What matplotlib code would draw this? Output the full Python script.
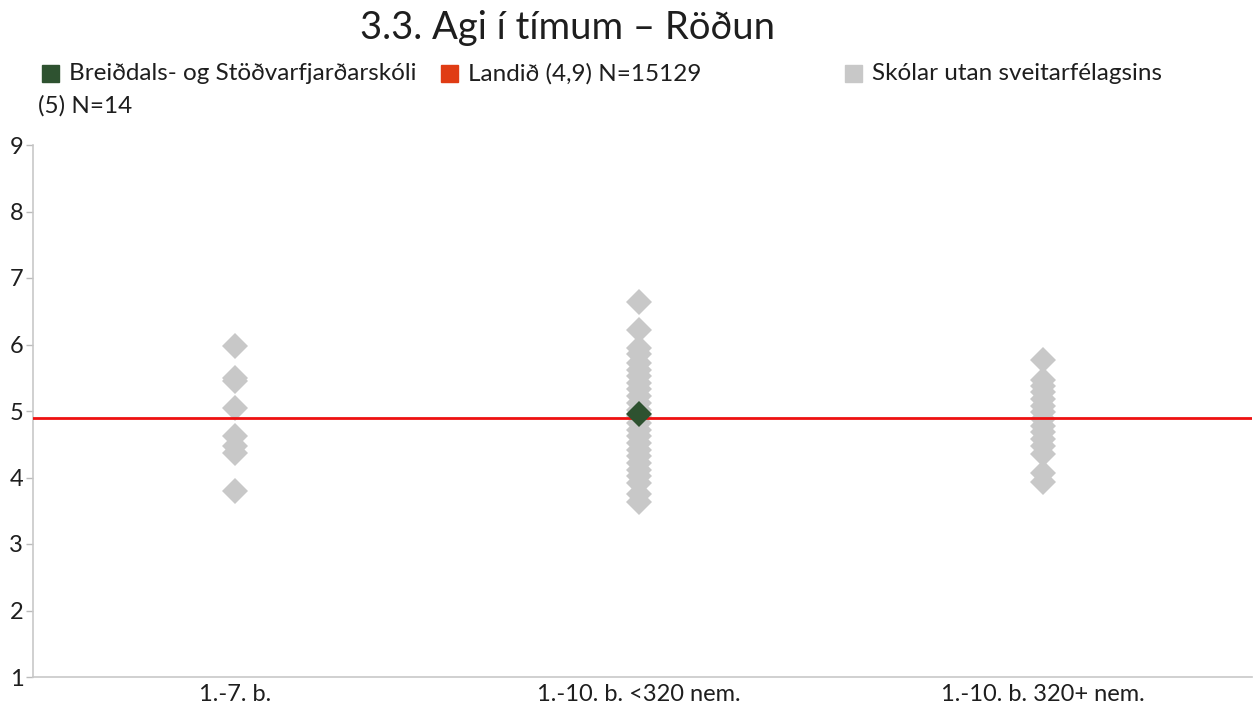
import numpy as np
import matplotlib.pyplot as plt
from matplotlib.patches import Rectangle

plt.rcParams['font.family'] = ['Lato', 'DejaVu Sans']

title = "3.3. Agi í tímum – Röðun"
categories = ["1.-7. b.", "1.-10. b. <320 nem.", "1.-10. b. 320+ nem."]

# skolar utan sveitarfelagsins, one list per category
others_1_7 = [5.97, 5.50, 5.45, 5.05, 4.63, 4.48, 4.37, 3.80]
others_small = [6.64, 6.22, 5.95, 5.85, 5.72, 5.62, 5.52, 5.42, 5.33, 5.22, 5.12,
                5.02, 4.92, 4.82, 4.72, 4.62, 4.52, 4.42, 4.32, 4.22, 4.12, 4.02,
                3.92, 3.75, 3.63]
others_large = [5.77, 5.47, 5.38, 5.28, 5.18, 5.08, 4.98, 4.88, 4.78, 4.68, 4.58,
                4.48, 4.36, 4.07, 3.93]
others = [others_1_7, others_small, others_large]

school_cat = 1
school_val = 4.96
landid = 4.9

green = '#2E5230'
grey = '#C8C8C8'
red = '#EE1111'
legend_red = '#E03C14'
txt = '#1E1E1E'

fig = plt.figure(figsize=(12.57, 7.07), dpi=100)
ax = fig.add_axes([33 / 1257, 30 / 707, 1219 / 1257, 532 / 707])

for i, vals in enumerate(others):
    ax.plot(np.full(len(vals), i), vals, linestyle='none', marker='D', ms=13.5,
            color=grey, markeredgewidth=0, zorder=2)

ax.axhline(landid, color=red, lw=2, zorder=3)
ax.plot([school_cat], [school_val], linestyle='none', marker='D', ms=13.5,
        color=green, markeredgewidth=0, zorder=4)

ax.set_xlim(-0.5, 2.517)
ax.set_ylim(1, 9)
ax.set_yticks(range(1, 10))
ax.set_xticks(range(3))
ax.set_xticklabels(categories)
ax.tick_params(axis='x', length=0, labelsize=17, colors=txt, pad=5)
ax.tick_params(axis='y', length=5, width=1, color='#BBBBBB', labelsize=17,
               labelcolor=txt, pad=2)
for s in ['top', 'right']:
    ax.spines[s].set_visible(False)
for s in ['left', 'bottom']:
    ax.spines[s].set_color('#C8C8C8')
    ax.spines[s].set_linewidth(1.2)

fig.text(568 / 1257, 1 - 28 / 707, title, ha='center', va='center', fontsize=27.5,
         color=txt)

# legend, built by hand to match the wrapped layout
legend_items = [(green, "Breiðdals- og Stöðvarfjarðarskóli", 42),
                (legend_red, "Landið (4,9) N=15129", 441),
                (grey, "Skólar utan sveitarfélagsins", 845)]
for col, label, x in legend_items:
    fig.patches.append(Rectangle((x / 1257, 1 - 82 / 707), 17 / 1257, 17 / 707,
                                 transform=fig.transFigure, color=col))
    fig.text((x + 27) / 1257, 1 - 74 / 707, label, va='center', fontsize=17.5,
             color=txt)
fig.text(38 / 1257, 1 - 106 / 707, "(5) N=14", va='center', fontsize=17.5,
         color=txt)

fig.savefig('out.png', dpi=100)
